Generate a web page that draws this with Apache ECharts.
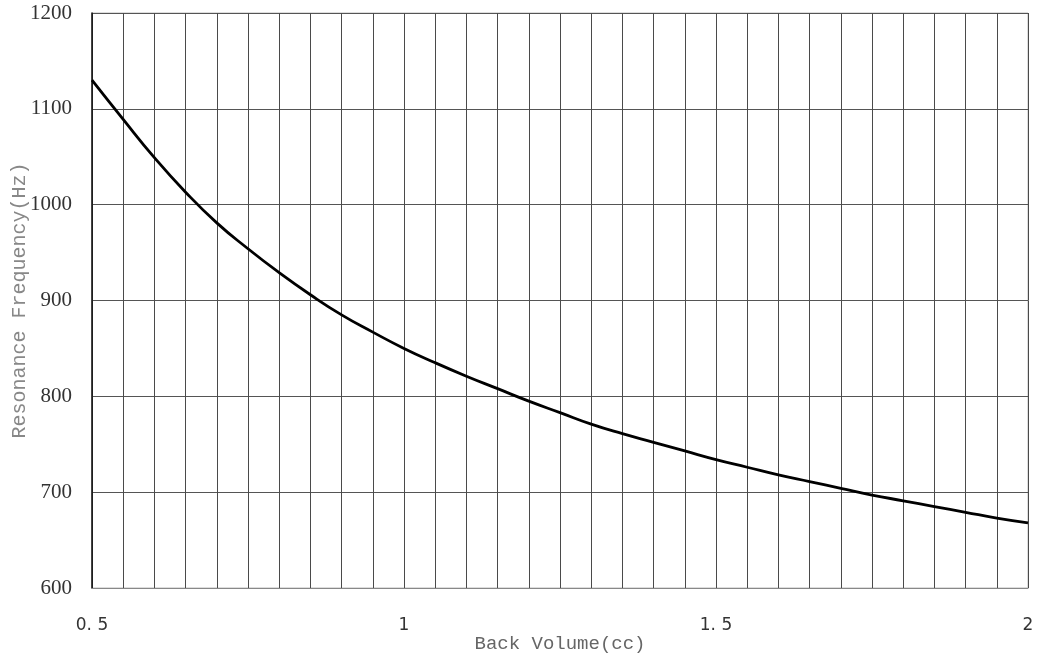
<!DOCTYPE html>
<html>
<head>
<meta charset="utf-8">
<script src="https://cdn.jsdelivr.net/npm/echarts@6/dist/echarts.min.js"></script>
<style>html,body{margin:0;padding:0;background:#fff}#c{width:1038px;height:659px}</style>
</head>
<body>
<div id="c"></div>
<script>
var volumes = [0.5,0.55,0.6,0.65,0.7,0.75,0.8,0.85,0.9,0.95,1.0,1.05,1.1,1.15,1.2,1.25,1.3,1.35,1.4,1.45,1.5,1.55,1.6,1.65,1.7,1.75,1.8,1.85,1.9,1.95,2.0];
var frequencies = [1130,1089,1049,1013,981,954,929,906,885,867,850,835,821,808,795,783,771,761,752,743,734,726,718,711,704,697,691,685,679,673,668];
var xLabelValues = [0.5,1,1.5,2];
var xLabelTexts = ['0. 5','1','1. 5','2'];
var xName = 'Back Volume(cc)';
var yName = 'Resonance Frequency(Hz)';

var chart = echarts.init(document.getElementById('c'), null, {renderer:'canvas'});
var seriesData = volumes.map(function(v,i){return [v, frequencies[i]];});
chart.setOption({
  animation:false,
  backgroundColor:'#fff',
  grid:{left:92,right:10,top:13,bottom:71,containLabel:false,outerBoundsMode:'none',show:true,borderColor:'#bbb',borderWidth:1},
  xAxis:{
    type:'value',min:0.5,max:2,interval:0.05,
    name:xName,nameLocation:'middle',nameGap:46,nameMoveOverlap:false,
    nameTextStyle:{fontFamily:'Liberation Mono',fontSize:19,color:'#666'},
    axisLine:{show:true,lineStyle:{color:'#888',width:1}},
    axisTick:{show:false},
    axisLabel:{
      margin:29,fontFamily:'DejaVu Sans',fontSize:17,color:'#333',hideOverlap:false,
      formatter:function(val){
        for(var i=0;i<xLabelValues.length;i++){ if(Math.abs(val-xLabelValues[i])<1e-6) return xLabelTexts[i]; }
        return '';
      }
    },
    splitLine:{show:true,lineStyle:{color:'#4a4a4a',width:1}}
  },
  yAxis:{
    type:'value',min:600,max:1200,interval:100,
    name:yName,nameLocation:'middle',nameGap:62,nameMoveOverlap:false,
    nameTextStyle:{fontFamily:'Liberation Mono',fontSize:20,color:'#888'},
    axisLine:{show:true,lineStyle:{color:'#111',width:1.5}},
    axisTick:{show:false},
    axisLabel:{margin:20,fontFamily:'"Liberation Serif", serif',fontSize:21,color:'#333',
      formatter:function(v){return String(Math.round(v));}},
    splitLine:{show:true,lineStyle:{color:'#555',width:1}}
  },
  series:[{
    type:'line',data:seriesData,smooth:true,showSymbol:false,symbol:'none',
    lineStyle:{color:'#000',width:2.8}
  }]
});
</script>
</body>
</html>
